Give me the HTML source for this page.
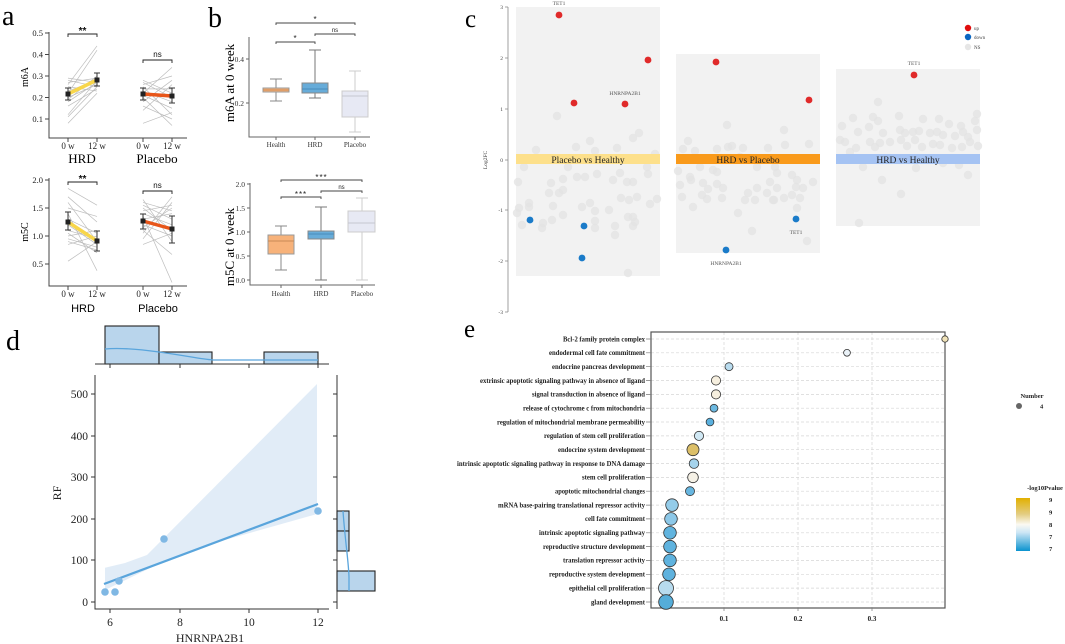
<!DOCTYPE html>
<html><head><meta charset="utf-8"><style>
html,body{margin:0;padding:0;background:#fff;}
svg{display:block;}
.s{font-family:"Liberation Serif",serif;}
.a{font-family:"Liberation Sans",sans-serif;}
</style></head><body>
<svg width="1065" height="644" viewBox="0 0 1065 644" xmlns="http://www.w3.org/2000/svg">
<defs>
<linearGradient id="cb" x1="0" y1="0" x2="0" y2="1">
<stop offset="0" stop-color="#e2b000"/><stop offset="0.3" stop-color="#e3cc80"/><stop offset="0.5" stop-color="#fbf9f2"/><stop offset="0.65" stop-color="#cde6f5"/><stop offset="1" stop-color="#0a93cf"/>
</linearGradient>
</defs>
<!-- Panel labels -->
<g class="s" font-size="28" fill="#000">
<text x="2" y="25">a</text><text x="208" y="27">b</text><text x="465" y="27" font-size="25">c</text><text x="6" y="350">d</text><text x="464" y="337" font-size="25">e</text>
</g>

<!-- ============ PANEL A ============ -->
<g stroke="#444" stroke-width="1" fill="none">
<path d="M49,32V138H187"/>
<path d="M45,33H49M45,54.5H49M45,76H49M45,97.5H49M45,119H49"/>
<path d="M68,138V142M97,138V142M143,138V142M172,138V142"/>
<path d="M49,178V286H187"/>
<path d="M45,180H49M45,208H49M45,236H49M45,264H49"/>
<path d="M68,286V290M97,286V290M143,286V290M172,286V290"/>
</g>
<g class="s" font-size="8.5" fill="#222" text-anchor="end">
<text x="43" y="36">0.5</text><text x="43" y="57.5">0.4</text><text x="43" y="79">0.3</text><text x="43" y="100.5">0.2</text><text x="43" y="122">0.1</text>
<text x="43" y="183">2.0</text><text x="43" y="211">1.5</text><text x="43" y="239">1.0</text><text x="43" y="267">0.5</text>
</g>
<g class="s" font-size="9" fill="#222" text-anchor="middle">
<text x="68" y="149">0 w</text><text x="97" y="149">12 w</text><text x="143" y="149">0 w</text><text x="172" y="149">12 w</text>
<text x="68" y="297">0 w</text><text x="97" y="297">12 w</text><text x="143" y="297">0 w</text><text x="172" y="297">12 w</text>
</g>
<g class="s" font-size="13" fill="#000" text-anchor="middle">
<text x="82" y="163">HRD</text><text x="157" y="163">Placebo</text>
</g>
<g class="a" font-size="11" fill="#000" text-anchor="middle">
<text x="83" y="312">HRD</text><text x="158" y="312">Placebo</text>
</g>
<g class="s" font-size="10" fill="#000" text-anchor="middle">
<text transform="translate(28,77) rotate(-90)">m6A</text>
<text transform="translate(28,232) rotate(-90)">m5C</text>
</g>
<!-- gray lines -->
<g stroke="#bdbdbd" stroke-width="0.7">
<line x1="68" y1="123.3" x2="97" y2="93.2"/><line x1="68" y1="116.9" x2="97" y2="86.75"/><line x1="68" y1="114.7" x2="97" y2="80.3"/><line x1="68" y1="106.1" x2="97" y2="88.9"/><line x1="68" y1="101.8" x2="97" y2="82.45"/><line x1="68" y1="99.65" x2="97" y2="76"/><line x1="68" y1="97.5" x2="97" y2="84.6"/><line x1="68" y1="95.35" x2="97" y2="78.15"/><line x1="68" y1="93.2" x2="97" y2="50.2"/><line x1="68" y1="91.05" x2="97" y2="80.3"/><line x1="68" y1="86.75" x2="97" y2="91.05"/><line x1="68" y1="84.6" x2="97" y2="45.9"/><line x1="68" y1="82.45" x2="97" y2="78.15"/><line x1="68" y1="80.3" x2="97" y2="86.75"/><line x1="68" y1="78.15" x2="97" y2="82.45"/>
<line x1="143" y1="123.3" x2="172" y2="112.55"/><line x1="143" y1="110.4" x2="172" y2="84.6"/><line x1="143" y1="106.1" x2="172" y2="119"/><line x1="143" y1="101.8" x2="172" y2="80.3"/><line x1="143" y1="97.5" x2="172" y2="125.45"/><line x1="143" y1="95.35" x2="172" y2="108.25"/><line x1="143" y1="93.2" x2="172" y2="67.4"/><line x1="143" y1="91.05" x2="172" y2="101.8"/><line x1="143" y1="88.9" x2="172" y2="88.9"/><line x1="143" y1="86.75" x2="172" y2="114.7"/><line x1="143" y1="84.6" x2="172" y2="76"/><line x1="143" y1="82.45" x2="172" y2="97.5"/><line x1="143" y1="80.3" x2="172" y2="93.2"/>
<line x1="68" y1="261.2" x2="97" y2="241.6"/><line x1="68" y1="244.4" x2="97" y2="236"/><line x1="68" y1="241.6" x2="97" y2="250"/><line x1="68" y1="238.8" x2="97" y2="247.2"/><line x1="68" y1="236" x2="97" y2="230.4"/><line x1="68" y1="233.2" x2="97" y2="252.8"/><line x1="68" y1="230.4" x2="97" y2="238.8"/><line x1="68" y1="224.8" x2="97" y2="244.4"/><line x1="68" y1="219.2" x2="97" y2="233.2"/><line x1="68" y1="213.6" x2="97" y2="270.7"/><line x1="68" y1="208" x2="97" y2="216.4"/><line x1="68" y1="202.4" x2="97" y2="241.6"/><line x1="68" y1="196.8" x2="97" y2="222"/><line x1="68" y1="188.4" x2="97" y2="205.2"/>
<line x1="143" y1="244.4" x2="172" y2="233.2"/><line x1="143" y1="238.8" x2="172" y2="202.4"/><line x1="143" y1="233.2" x2="172" y2="196.8"/><line x1="143" y1="230.4" x2="172" y2="254.5"/><line x1="143" y1="227.6" x2="172" y2="208"/><line x1="143" y1="224.8" x2="172" y2="236"/><line x1="143" y1="219.2" x2="172" y2="213.6"/><line x1="143" y1="216.4" x2="172" y2="282.5"/><line x1="143" y1="213.6" x2="172" y2="224.8"/><line x1="143" y1="210.8" x2="172" y2="205.2"/><line x1="143" y1="208" x2="172" y2="230.4"/><line x1="143" y1="205.2" x2="172" y2="219.2"/><line x1="143" y1="202.4" x2="172" y2="210.8"/><line x1="143" y1="199.6" x2="172" y2="241.6"/>
</g>
<g stroke-linecap="round">
<line x1="68" y1="94" x2="97" y2="80" stroke="#f8d64b" stroke-width="3.5"/>
<line x1="143" y1="94" x2="172" y2="96" stroke="#e8561a" stroke-width="3.5"/>
<line x1="68" y1="222" x2="97" y2="241" stroke="#f8d64b" stroke-width="3.5"/>
<line x1="143" y1="221" x2="172" y2="229" stroke="#e8561a" stroke-width="3.5"/>
</g>
<g stroke="#333" stroke-width="1" fill="none">
<path d="M68,88V100M65,88H71M65,100H71M97,73V86M94,73H100M94,86H100"/>
<path d="M143,88V100M140,88H146M140,100H146M172,88V103M169,88H175M169,103H175"/>
<path d="M68,212V230M65,212H71M65,230H71M97,231V251M94,231H100M94,251H100"/>
<path d="M143,214V229M140,214H146M140,229H146M172,216V243M169,216H175M169,243H175"/>
</g>
<g fill="#222">
<rect x="65.5" y="91.5" width="5" height="5"/><rect x="94.5" y="77.5" width="5" height="5"/>
<rect x="140.5" y="91.5" width="5" height="5"/><rect x="169.5" y="93.5" width="5" height="5"/>
<rect x="65.5" y="219.5" width="5" height="5"/><rect x="94.5" y="238.5" width="5" height="5"/>
<rect x="140.5" y="218.5" width="5" height="5"/><rect x="169.5" y="226.5" width="5" height="5"/>
</g>
<g stroke="#222" stroke-width="0.9" fill="none">
<path d="M68,37V34H97V37"/><path d="M143,63V60H172V63"/>
<path d="M68,185V182H97V185"/><path d="M143,194V191H172V194"/>
</g>
<g class="a" fill="#111" text-anchor="middle">
<text x="82.5" y="34" font-size="10" font-weight="bold">**</text>
<text x="157.5" y="57" font-size="8">ns</text>
<text x="82.5" y="182" font-size="10" font-weight="bold">**</text>
<text x="157.5" y="188" font-size="8">ns</text>
</g>

<!-- ============ PANEL B ============ -->
<g stroke="#666" stroke-width="1" fill="none">
<path d="M249,37V137H370"/>
<path d="M246,59H249M246,103H249"/>
<path d="M276,137V140M315,137V140M355,137V140"/>
<path d="M250,183V285H375"/>
<path d="M247,184H250M247,208H250M247,232H250M247,256H250M247,280H250"/>
<path d="M281,285V288M321,285V288M362,285V288"/>
</g>
<g class="s" font-size="7.5" fill="#333" text-anchor="end">
<text x="244" y="62">0.4</text><text x="244" y="106">0.2</text>
<text x="245" y="187">2.0</text><text x="245" y="211">1.5</text><text x="245" y="235">1.0</text><text x="245" y="259">0.5</text><text x="245" y="283">0.0</text>
</g>
<g class="s" font-size="7" fill="#333" text-anchor="middle">
<text x="276" y="147">Health</text><text x="315" y="147">HRD</text><text x="355" y="147">Placebo</text>
<text x="281" y="296">Health</text><text x="321" y="296">HRD</text><text x="362" y="296">Placebo</text>
</g>
<g class="s" font-size="13" fill="#000" text-anchor="middle">
<text transform="translate(234,83) rotate(-90)">m6A at 0 week</text>
<text transform="translate(234,247) rotate(-90)">m5C at 0 week</text>
</g>
<g stroke-width="1">
<path d="M276,79V88M276,92V101M270,79H282M270,101H282" stroke="#888"/>
<rect x="263" y="88" width="26" height="4" fill="#f7b27a" stroke="#999"/><line x1="263" y1="90" x2="289" y2="90" stroke="#c98a55"/>
<path d="M315,50V83M315,93V98M309,50H321M309,98H321" stroke="#777"/>
<rect x="302" y="83" width="26" height="10" fill="#67acd9" stroke="#888"/><line x1="302" y1="89" x2="328" y2="89" stroke="#4a8dbb"/>
<path d="M355,71V91M355,117V132M349,71H361M349,132H361" stroke="#ccc"/>
<rect x="342" y="91" width="26" height="26" fill="#e7e9f4" stroke="#ccc"/><line x1="342" y1="96" x2="368" y2="96" stroke="#c4c6d0"/>
<path d="M281,226V235M281,254V270M275,226H287M275,270H287" stroke="#888"/>
<rect x="268" y="235" width="26" height="19" fill="#f7b27a" stroke="#999"/><line x1="268" y1="241" x2="294" y2="241" stroke="#c98a55"/>
<path d="M321,207V231M321,239V280M315,207H327M315,280H327" stroke="#777"/>
<rect x="308" y="231" width="26" height="8" fill="#67acd9" stroke="#888"/><line x1="308" y1="234" x2="334" y2="234" stroke="#4a8dbb"/>
<path d="M362,198V211M362,232V280M356,198H368M356,280H368" stroke="#ccc"/>
<rect x="348" y="211" width="27" height="21" fill="#e7e9f4" stroke="#ccc"/><line x1="348" y1="223" x2="375" y2="223" stroke="#c4c6d0"/>
</g>
<g stroke="#444" stroke-width="0.9" fill="none">
<path d="M276,25V23H355V25"/><path d="M315,36V34H355V36"/><path d="M276,44V42H315V44"/>
<path d="M281,182V180H362V182"/><path d="M321,193V191H362V193"/><path d="M281,199V197H321V199"/>
</g>
<g class="a" fill="#222" text-anchor="middle">
<text x="315" y="22" font-size="8">*</text><text x="335" y="32" font-size="6">ns</text><text x="295" y="41" font-size="8">*</text>
<text x="321.5" y="180" font-size="8" letter-spacing="1">***</text><text x="341.5" y="189" font-size="6">ns</text><text x="301" y="197" font-size="8" letter-spacing="1">***</text>
</g>

<!-- ============ PANEL C ============ -->
<rect x="516" y="7" width="144" height="269" fill="#f2f2f2"/>
<rect x="676" y="54" width="144" height="199" fill="#f2f2f2"/>
<rect x="836" y="69" width="144" height="157" fill="#f2f2f2"/>
<g fill="#e3e3e3" fill-opacity="0.8">
<circle cx="557" cy="116" r="4.2"/><circle cx="590" cy="141" r="4.2"/><circle cx="595" cy="151" r="4.2"/><circle cx="617" cy="148" r="4.2"/><circle cx="633" cy="138" r="4.2"/><circle cx="639" cy="133" r="4.2"/><circle cx="655" cy="154" r="4.2"/><circle cx="524" cy="167" r="4.2"/><circle cx="518" cy="182" r="4.2"/><circle cx="551" cy="183" r="4.2"/><circle cx="568" cy="167" r="4.2"/><circle cx="563" cy="179" r="4.2"/><circle cx="577" cy="177" r="4.2"/><circle cx="585" cy="177" r="4.2"/><circle cx="597" cy="174" r="4.2"/><circle cx="613" cy="180" r="4.2"/><circle cx="620" cy="173" r="4.2"/><circle cx="627" cy="182" r="4.2"/><circle cx="633" cy="182" r="4.2"/><circle cx="647" cy="167" r="4.2"/><circle cx="648" cy="174" r="4.2"/><circle cx="657" cy="199" r="4.2"/><circle cx="650" cy="204" r="4.2"/><circle cx="637" cy="197" r="4.2"/><circle cx="629" cy="200" r="4.2"/><circle cx="621" cy="198" r="4.2"/><circle cx="609" cy="210" r="4.2"/><circle cx="595" cy="211" r="4.2"/><circle cx="595" cy="221" r="4.2"/><circle cx="595" cy="228" r="4.2"/><circle cx="582" cy="207" r="4.2"/><circle cx="590" cy="203" r="4.2"/><circle cx="563" cy="190" r="4.2"/><circle cx="559" cy="193" r="4.2"/><circle cx="549" cy="193" r="4.2"/><circle cx="553" cy="206" r="4.2"/><circle cx="563" cy="215" r="4.2"/><circle cx="552" cy="220" r="4.2"/><circle cx="543" cy="223" r="4.2"/><circle cx="542" cy="228" r="4.2"/><circle cx="522" cy="225" r="4.2"/><circle cx="517" cy="213" r="4.2"/><circle cx="519" cy="208" r="4.2"/><circle cx="529" cy="203" r="4.2"/><circle cx="529" cy="207" r="4.2"/><circle cx="615" cy="226" r="4.2"/><circle cx="615" cy="235" r="4.2"/><circle cx="633" cy="217" r="4.2"/><circle cx="635" cy="222" r="4.2"/><circle cx="633" cy="226" r="4.2"/><circle cx="628" cy="217" r="4.2"/><circle cx="628" cy="273" r="4.2"/><circle cx="576" cy="147" r="4.2"/><circle cx="536" cy="150" r="4.2"/>
<circle cx="688" cy="141" r="4.2"/><circle cx="683" cy="149" r="4.2"/><circle cx="695" cy="151" r="4.2"/><circle cx="727" cy="125" r="4.2"/><circle cx="732" cy="146" r="4.2"/><circle cx="717" cy="149" r="4.2"/><circle cx="728" cy="147" r="4.2"/><circle cx="678" cy="171" r="4.2"/><circle cx="680" cy="185" r="4.2"/><circle cx="682" cy="197" r="4.2"/><circle cx="690" cy="177" r="4.2"/><circle cx="691" cy="180" r="4.2"/><circle cx="700" cy="167" r="4.2"/><circle cx="703" cy="183" r="4.2"/><circle cx="708" cy="189" r="4.2"/><circle cx="702" cy="195" r="4.2"/><circle cx="707" cy="199" r="4.2"/><circle cx="693" cy="207" r="4.2"/><circle cx="722" cy="198" r="4.2"/><circle cx="723" cy="188" r="4.2"/><circle cx="717" cy="184" r="4.2"/><circle cx="713" cy="170" r="4.2"/><circle cx="717" cy="172" r="4.2"/><circle cx="738" cy="213" r="4.2"/><circle cx="752" cy="231" r="4.2"/><circle cx="784" cy="130" r="4.2"/><circle cx="785" cy="145" r="4.2"/><circle cx="809" cy="144" r="4.2"/><circle cx="775" cy="167" r="4.2"/><circle cx="777" cy="173" r="4.2"/><circle cx="792" cy="175" r="4.2"/><circle cx="797" cy="180" r="4.2"/><circle cx="796" cy="187" r="4.2"/><circle cx="803" cy="188" r="4.2"/><circle cx="813" cy="182" r="4.2"/><circle cx="777" cy="188" r="4.2"/><circle cx="784" cy="198" r="4.2"/><circle cx="792" cy="195" r="4.2"/><circle cx="800" cy="198" r="4.2"/><circle cx="774" cy="200" r="4.2"/><circle cx="797" cy="208" r="4.2"/><circle cx="807" cy="241" r="4.2"/><circle cx="745" cy="200" r="4.2"/><circle cx="755" cy="200" r="4.2"/><circle cx="748" cy="193" r="4.2"/><circle cx="757" cy="188" r="4.2"/><circle cx="767" cy="193" r="4.2"/><circle cx="770" cy="182" r="4.2"/><circle cx="773" cy="200" r="4.2"/><circle cx="743" cy="148" r="4.2"/><circle cx="757" cy="167" r="4.2"/><circle cx="768" cy="148" r="4.2"/><circle cx="740" cy="157" r="4.2"/><circle cx="760" cy="160" r="4.2"/>
<circle cx="878" cy="102" r="4.2"/><circle cx="853" cy="118" r="4.2"/><circle cx="873" cy="117" r="4.2"/><circle cx="878" cy="121" r="4.2"/><circle cx="899" cy="116" r="4.2"/><circle cx="923" cy="119" r="4.2"/><circle cx="939" cy="119" r="4.2"/><circle cx="949" cy="124" r="4.2"/><circle cx="961" cy="126" r="4.2"/><circle cx="975" cy="121" r="4.2"/><circle cx="977" cy="114" r="4.2"/><circle cx="842" cy="126" r="4.2"/><circle cx="858" cy="132" r="4.2"/><circle cx="869" cy="127" r="4.2"/><circle cx="883" cy="133" r="4.2"/><circle cx="900" cy="130" r="4.2"/><circle cx="905" cy="133" r="4.2"/><circle cx="913" cy="132" r="4.2"/><circle cx="919" cy="131" r="4.2"/><circle cx="930" cy="133" r="4.2"/><circle cx="937" cy="132" r="4.2"/><circle cx="943" cy="135" r="4.2"/><circle cx="955" cy="136" r="4.2"/><circle cx="963" cy="132" r="4.2"/><circle cx="968" cy="137" r="4.2"/><circle cx="977" cy="130" r="4.2"/><circle cx="840" cy="140" r="4.2"/><circle cx="845" cy="142" r="4.2"/><circle cx="856" cy="148" r="4.2"/><circle cx="870" cy="142" r="4.2"/><circle cx="875" cy="147" r="4.2"/><circle cx="880" cy="143" r="4.2"/><circle cx="890" cy="142" r="4.2"/><circle cx="901" cy="140" r="4.2"/><circle cx="907" cy="146" r="4.2"/><circle cx="915" cy="140" r="4.2"/><circle cx="922" cy="147" r="4.2"/><circle cx="933" cy="144" r="4.2"/><circle cx="940" cy="145" r="4.2"/><circle cx="952" cy="148" r="4.2"/><circle cx="962" cy="147" r="4.2"/><circle cx="970" cy="142" r="4.2"/><circle cx="978" cy="146" r="4.2"/><circle cx="850" cy="152" r="4.2"/><circle cx="863" cy="167" r="4.2"/><circle cx="882" cy="180" r="4.2"/><circle cx="916" cy="168" r="4.2"/><circle cx="943" cy="163" r="4.2"/><circle cx="959" cy="165" r="4.2"/><circle cx="968" cy="175" r="4.2"/><circle cx="901" cy="194" r="4.2"/><circle cx="859" cy="223" r="4.2"/>
</g>
<rect x="516" y="154" width="144" height="10" fill="#fde08b"/>
<rect x="676" y="154" width="144" height="10" fill="#f99a1b"/>
<rect x="836" y="154" width="144" height="10" fill="#a5c3f3"/>
<g class="s" font-size="9.5" fill="#222" text-anchor="middle">
<text x="588" y="163">Placebo vs Healthy</text><text x="748" y="163">HRD vs Placebo</text><text x="908" y="163">HRD vs Healthy</text>
</g>
<g fill="#e02a2a">
<circle cx="559" cy="15" r="3.4"/><circle cx="574" cy="103" r="3.4"/><circle cx="625" cy="104" r="3.4"/><circle cx="648" cy="60" r="3.4"/>
<circle cx="716" cy="62" r="3.4"/><circle cx="809" cy="100" r="3.4"/><circle cx="914" cy="75" r="3.4"/>
</g>
<g fill="#1a7bc9">
<circle cx="530" cy="220" r="3.4"/><circle cx="584" cy="226" r="3.4"/><circle cx="582" cy="258" r="3.4"/>
<circle cx="726" cy="250" r="3.4"/><circle cx="796" cy="219" r="3.4"/>
</g>
<g class="s" font-size="5.5" fill="#555" text-anchor="middle">
<text x="559" y="5">TET1</text><text x="625" y="95">HNRNPA2B1</text><text x="726" y="265">HNRNPA2B1</text><text x="796" y="234">TET1</text><text x="914" y="65">TET1</text>
</g>
<g stroke="#888" stroke-width="0.8" fill="none">
<path d="M508,7V312"/>
<path d="M505,7H508M505,58H508M505,109H508M505,160H508M505,210H508M505,261H508M505,312H508"/>
</g>
<g class="s" font-size="5.5" fill="#444" text-anchor="end">
<text x="503" y="9">3</text><text x="503" y="60">2</text><text x="503" y="111">1</text><text x="503" y="162">0</text><text x="503" y="212">-1</text><text x="503" y="263">-2</text><text x="503" y="314">-3</text>
</g>
<text class="s" font-size="5.5" fill="#333" text-anchor="middle" transform="translate(487,160) rotate(-90)">Log2FC</text>
<circle cx="968" cy="28" r="3.2" fill="#e00d0d"/><circle cx="968" cy="37" r="3.2" fill="#0a66c2"/><circle cx="968" cy="47" r="3.2" fill="#e6e6e6"/>
<g class="s" font-size="5" fill="#444">
<text x="974" y="30">up</text><text x="974" y="39">down</text><text x="974" y="49">NS</text>
</g>

<!-- ============ PANEL D ============ -->
<g fill="#b9d5ec" stroke="#222" stroke-width="1.1">
<rect x="105" y="326" width="54" height="38"/><rect x="159" y="352" width="53" height="12"/><rect x="264" y="352" width="54" height="12"/>
</g>
<path d="M105,349 C115,348 130,348 159,352 S200,359 213,360 L318,360" fill="none" stroke="#5aa5dc" stroke-width="1.3"/>
<g stroke="#333" stroke-width="1" fill="none">
<path d="M95,364H329"/><path d="M110,364V368M180,364V368M249,364V368M318,364V368"/>
<path d="M95,375V609H329"/>
<path d="M91,602H95M91,560H95M91,519H95M91,477H95M91,436H95M91,394H95"/>
<path d="M110,609V613M180,609V613M249,609V613M318,609V613"/>
<path d="M337,375V609"/><path d="M333,602H337M333,560H337M333,519H337M333,477H337M333,436H337M333,394H337"/>
</g>
<g fill="#b9d5ec" stroke="#222" stroke-width="1.1">
<rect x="337" y="511" width="12" height="20"/><rect x="337" y="531" width="12" height="20"/><rect x="337" y="571" width="38" height="20"/>
</g>
<path d="M343,511 C345,540 349,565 349,578 L349,591" fill="none" stroke="#5aa5dc" stroke-width="1.3"/>
<polygon points="105,567.7 125,563 147,555 317,384 317,514 200,547 166.7,560 105,590" fill="#dce9f6" fill-opacity="0.85"/>
<line x1="104" y1="584" x2="318" y2="504" stroke="#5aa5dc" stroke-width="2.2"/>
<g fill="#80b8e4">
<circle cx="105" cy="592" r="3.8"/><circle cx="115" cy="592" r="3.8"/><circle cx="119" cy="581" r="3.8"/><circle cx="164" cy="539" r="3.8"/><circle cx="318" cy="511" r="3.8"/>
</g>
<g class="s" font-size="11.5" fill="#222" text-anchor="end">
<text x="88" y="606">0</text><text x="88" y="564">100</text><text x="88" y="523">200</text><text x="88" y="481">300</text><text x="88" y="440">400</text><text x="88" y="398">500</text>
</g>
<g class="s" font-size="11.5" fill="#222" text-anchor="middle">
<text x="110" y="626">6</text><text x="180" y="626">8</text><text x="249" y="626">10</text><text x="318" y="626">12</text>
</g>
<text class="s" font-size="12" fill="#222" x="210" y="642" text-anchor="middle">HNRNPA2B1</text>
<text class="s" font-size="12" fill="#222" text-anchor="middle" transform="translate(61,493) rotate(-90)">RF</text>

<!-- ============ PANEL E ============ -->
<g stroke="#d6d6d6" stroke-width="0.7" stroke-dasharray="3,2" fill="none">
<path d="M651,339H945M651,352.8H945M651,366.7H945M651,380.5H945M651,394.4H945M651,408.2H945M651,422H945M651,435.9H945M651,449.7H945M651,463.6H945M651,477.4H945M651,491.2H945M651,505.1H945M651,518.9H945M651,532.8H945M651,546.6H945M651,560.4H945M651,574.3H945M651,588.1H945M651,602H945"/>
<path d="M724,332V608M798,332V608M872,332V608"/>
</g>
<rect x="651" y="332" width="294" height="276" fill="none" stroke="#555" stroke-width="1.2"/>
<g stroke="#777" stroke-width="0.7">
<path d="M646,339H651M646,352.8H651M646,366.7H651M646,380.5H651M646,394.4H651M646,408.2H651M646,422H651M646,435.9H651M646,449.7H651M646,463.6H651M646,477.4H651M646,491.2H651M646,505.1H651M646,518.9H651M646,532.8H651M646,546.6H651M646,560.4H651M646,574.3H651M646,588.1H651M646,602H651"/>
<path d="M724,608V611M798,608V611M872,608V611"/>
</g>
<g class="s" font-size="6.8" font-weight="bold" fill="#222" text-anchor="end">
<text x="645" y="341.3" textLength="82" lengthAdjust="spacingAndGlyphs">Bcl-2 family protein complex</text>
<text x="645" y="355.1" textLength="96" lengthAdjust="spacingAndGlyphs">endodermal cell fate commitment</text>
<text x="645" y="369" textLength="93" lengthAdjust="spacingAndGlyphs">endocrine pancreas development</text>
<text x="645" y="382.8" textLength="165" lengthAdjust="spacingAndGlyphs">extrinsic apoptotic signaling pathway in absence of ligand</text>
<text x="645" y="396.7" textLength="113" lengthAdjust="spacingAndGlyphs">signal transduction in absence of ligand</text>
<text x="645" y="410.5" textLength="122" lengthAdjust="spacingAndGlyphs">release of cytochrome c from mitochondria</text>
<text x="645" y="424.3" textLength="148" lengthAdjust="spacingAndGlyphs">regulation of mitochondrial membrane permeability</text>
<text x="645" y="438.2" textLength="101" lengthAdjust="spacingAndGlyphs">regulation of stem cell proliferation</text>
<text x="645" y="452" textLength="87" lengthAdjust="spacingAndGlyphs">endocrine system development</text>
<text x="645" y="465.9" textLength="188" lengthAdjust="spacingAndGlyphs">intrinsic apoptotic signaling pathway in response to DNA damage</text>
<text x="645" y="479.7" textLength="63" lengthAdjust="spacingAndGlyphs">stem cell proliferation</text>
<text x="645" y="493.5" textLength="90" lengthAdjust="spacingAndGlyphs">apoptotic mitochondrial changes</text>
<text x="645" y="507.4" textLength="147" lengthAdjust="spacingAndGlyphs">mRNA base-pairing translational repressor activity</text>
<text x="645" y="521.2" textLength="60" lengthAdjust="spacingAndGlyphs">cell fate commitment</text>
<text x="645" y="535.1" textLength="106" lengthAdjust="spacingAndGlyphs">intrinsic apoptotic signaling pathway</text>
<text x="645" y="548.9" textLength="102" lengthAdjust="spacingAndGlyphs">reproductive structure development</text>
<text x="645" y="562.7" textLength="82" lengthAdjust="spacingAndGlyphs">translation repressor activity</text>
<text x="645" y="576.6" textLength="96" lengthAdjust="spacingAndGlyphs">reproductive system development</text>
<text x="645" y="590.4" textLength="76" lengthAdjust="spacingAndGlyphs">epithelial cell proliferation</text>
<text x="645" y="604.3" textLength="54" lengthAdjust="spacingAndGlyphs">gland development</text>
</g>
<g stroke="#333" stroke-width="0.8">
<circle cx="945" cy="339" r="3.2" fill="#f1e3b8"/>
<circle cx="847" cy="352.8" r="3.4" fill="#eaf2f8"/>
<circle cx="729" cy="366.7" r="4" fill="#b9dcef"/>
<circle cx="716" cy="380.5" r="4.6" fill="#f6efdf"/>
<circle cx="716" cy="394.4" r="4.6" fill="#f6efdf"/>
<circle cx="714" cy="408.2" r="3.9" fill="#6cb9e1"/>
<circle cx="710" cy="422" r="3.9" fill="#5ab0de"/>
<circle cx="699" cy="435.9" r="4.6" fill="#d0e8f4"/>
<circle cx="693" cy="449.7" r="6" fill="#dcbf68"/>
<circle cx="694" cy="463.6" r="4.8" fill="#a5d3ec"/>
<circle cx="693" cy="477.4" r="5.3" fill="#f5f1e6"/>
<circle cx="690" cy="491.2" r="4.5" fill="#67b6e0"/>
<circle cx="672" cy="505.1" r="6.3" fill="#94cce9"/>
<circle cx="671" cy="518.9" r="6.3" fill="#8dc8e8"/>
<circle cx="670" cy="532.8" r="6.3" fill="#61b4df"/>
<circle cx="670" cy="546.6" r="6.3" fill="#5fb3df"/>
<circle cx="670" cy="560.4" r="6.3" fill="#5fb3df"/>
<circle cx="669" cy="574.3" r="6.3" fill="#5fb2de"/>
<circle cx="666" cy="588.1" r="7.5" fill="#b7dbee"/>
<circle cx="666" cy="602" r="7.3" fill="#55add9"/>
</g>
<g class="s" font-size="7" font-weight="bold" fill="#222" text-anchor="middle">
<text x="724" y="621">0.1</text><text x="798" y="621">0.2</text><text x="872" y="621">0.3</text>
</g>
<g class="s" font-size="6.5" font-weight="bold" fill="#222">
<text x="1032" y="398" text-anchor="middle">Number</text>
<text x="1040" y="408.5">4</text>
<text x="1045" y="490" text-anchor="middle">-log10Pvalue</text>
<text x="1049" y="502">9</text><text x="1049" y="514.5">9</text><text x="1049" y="527">8</text><text x="1049" y="539">7</text><text x="1049" y="551">7</text>
</g>
<circle cx="1019" cy="406" r="3" fill="#666"/>
<rect x="1016" y="498" width="14" height="53" fill="url(#cb)"/>
</svg>
</body></html>
